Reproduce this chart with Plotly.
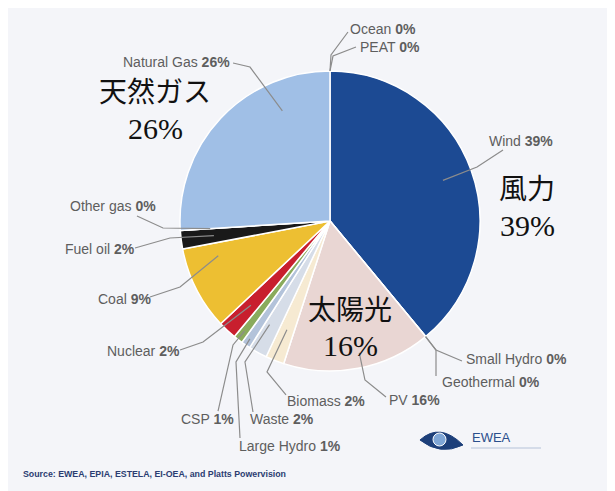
import math
import plotly.graph_objects as go

# ---------------- data ----------------
sources = ["Ocean", "PEAT", "Wind", "Small Hydro", "Geothermal", "PV", "Biomass",
           "Waste", "Large Hydro", "CSP", "Nuclear", "Coal", "Fuel oil", "Other gas",
           "Natural Gas"]
shares = [0, 0, 39, 0, 0, 16, 2, 2, 1, 1, 2, 9, 2, 0, 26]
colors = ["#cfe0f2", "#cfe0f2", "#1c4a93", "#dfe6ef", "#dfe6ef", "#e9d6d3", "#f6ead2",
          "#d6dde8", "#b3c3da", "#8aab5c", "#c81f2e", "#edbf32", "#191919", "#ffffff",
          "#a0bfe6"]
jp_labels = {"Wind": "風力", "PV": "太陽光", "Natural Gas": "天然ガス"}

# ---------------- layout constants (pixels, in window coordinates) ----------------
OFF = 8                      # default page margin of the html body
W, H = 615 - OFF, 491 - OFF  # figure size so that it fits the window exactly
CX, CY, R = 330, 221, 150

def px(x):
    return (x - OFF) / W

def py(y):
    return 1 - (y - OFF) / H

# label placement: left x, center y, elbow point, (t inside slice, radius fraction), start
label_pos = {
    "Ocean":       (348, 29,  (331, 55),  (0.0, 1.0), (348, 32)),
    "PEAT":        (358, 47,  (333, 56),  (0.0, 1.0), (356, 47)),
    "Wind":        (487, 141, (477, 167), (0.5, 0.8), (503, 150)),
    "Small Hydro": (464, 359, (436, 350), (1.0, 1.0), (462, 361)),
    "Geothermal":  (440, 382, (436, 350), (1.0, 1.0), (436, 376)),
    "PV":          (387, 400, (365, 380), (0.47, 0.9), (386, 397)),
    "Biomass":     (285, 401, (267, 372), (0.5, 0.78), (286, 395)),
    "Waste":       (248, 419, (245, 362), (0.7, 0.8), (253, 412)),
    "Large Hydro": (237, 446, (236, 362), (0.5, 0.95), (240, 438)),
    "CSP":         (179, 419, (233, 345), (0.5, 0.93), (218, 411)),
    "Nuclear":     (105, 351, (203, 342), (0.5, 0.77), (180, 350)),
    "Coal":        (96, 299,  (180, 287), (0.8, 0.78), (150, 297)),
    "Fuel oil":    (63, 249,  (170, 238), (0.5, 0.78), (135, 248)),
    "Other gas":   (68, 206,  (163, 228), (0.0, 0.8), (137, 216)),
    "Natural Gas": (121, 62,  (250, 67),  (0.75, 0.8), (233, 63)),
}
jp_pos = {"Wind": (527, 187, 225), "PV": (350, 308, 345), "Natural Gas": (155, 90, 128)}

fig = go.Figure(go.Pie(
    labels=sources, values=shares, sort=False, direction="clockwise", rotation=0,
    marker=dict(colors=colors, line=dict(color="#ffffff", width=1.5)),
    textinfo="none", hoverinfo="label+percent", showlegend=False,
    domain=dict(x=[px(CX - R), px(CX + R)], y=[py(CY + R), py(CY - R)]),
))

total = sum(shares)
cum = 0.0
shapes, annotations = [], []
for name, val in zip(sources, shares):
    a0 = cum / total * 360
    cum += val
    a1 = cum / total * 360
    lx, ly, elbow, (t, rf), start = label_pos[name]
    ang = math.radians(a0 + t * (a1 - a0))
    ex = CX + rf * R * math.sin(ang)
    ey = CY - rf * R * math.cos(ang)
    path = "M {:.4f},{:.4f} L {:.4f},{:.4f} L {:.4f},{:.4f}".format(
        px(start[0]), py(start[1]), px(elbow[0]), py(elbow[1]), px(ex), py(ey))
    shapes.append(dict(type="path", path=path, xref="paper", yref="paper",
                       line=dict(color="#8c8c8c", width=1.2)))
    annotations.append(dict(
        x=px(lx), y=py(ly), xref="paper", yref="paper", xanchor="left", yanchor="middle",
        text="{} <b>{}%</b>".format(name, round(val)), showarrow=False,
        font=dict(family="Liberation Sans, Arial, sans-serif", size=14, color="#5e5e5e")))
    if name in jp_labels:
        jx, jy1, jy2 = jp_pos[name]
        annotations.append(dict(
            x=px(jx), y=py(jy1), xref="paper", yref="paper", xanchor="center",
            yanchor="middle", text=jp_labels[name], showarrow=False,
            font=dict(family="Noto Sans CJK JP", size=28, color="#111111")))
        annotations.append(dict(
            x=px(jx), y=py(jy2), xref="paper", yref="paper", xanchor="center",
            yanchor="middle", text="{}%".format(round(val)), showarrow=False,
            font=dict(family="Liberation Serif, Times New Roman, serif", size=30,
                      color="#111111")))

# source line
annotations.append(dict(
    x=px(21), y=py(474), xref="paper", yref="paper", xanchor="left", yanchor="middle",
    text="<b>Source: EWEA, EPIA, ESTELA, EI-OEA, and Platts Powervision</b>",
    showarrow=False,
    font=dict(family="Liberation Sans, Arial, sans-serif", size=8.8, color="#2b3d72")))

# EWEA logo (eye + text)
eye = "M {:.4f},{:.4f} Q {:.4f},{:.4f} {:.4f},{:.4f} Q {:.4f},{:.4f} {:.4f},{:.4f} Z".format(
    px(420), py(440), px(440), py(422), px(463), py(445), px(440), py(456), px(420), py(440))
shapes.append(dict(type="path", path=eye, xref="paper", yref="paper",
                   fillcolor="#1d3f7a", line=dict(color="#1d3f7a", width=1)))
shapes.append(dict(type="circle", xref="paper", yref="paper",
                   x0=px(433), x1=px(446), y0=py(446), y1=py(433),
                   fillcolor="#7fa6d6", line=dict(color="#ffffff", width=1)))
annotations.append(dict(
    x=px(470), y=py(437), xref="paper", yref="paper", xanchor="left", yanchor="middle",
    text="EWEA", showarrow=False,
    font=dict(family="Liberation Sans, Arial, sans-serif", size=13, color="#2b4f8c")))
shapes.append(dict(type="line", xref="paper", yref="paper", x0=px(471), x1=px(541),
                   y0=py(448), y1=py(448), line=dict(color="#b5c2d8", width=1)))

fig.update_layout(
    width=W, height=H, margin=dict(l=0, r=0, t=0, b=0),
    paper_bgcolor="#f4f5f9", plot_bgcolor="#f4f5f9",
    shapes=shapes, annotations=annotations,
)

fig.write_html("out.html")
